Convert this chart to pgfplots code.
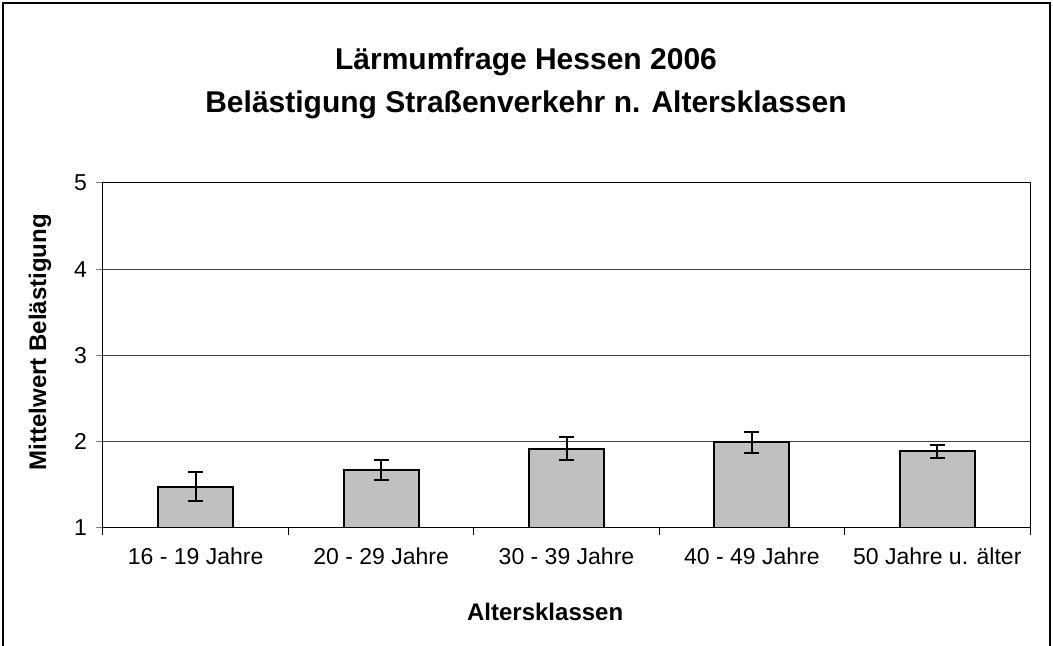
\documentclass[border=0pt]{standalone}
\usepackage{pgfplots}
\pgfplotsset{compat=1.18}
\usepackage{fontspec}
\setmainfont{Liberation Sans}
\definecolor{barfill}{RGB}{192,192,192}
\begin{document}
\begin{tikzpicture}
\path[use as bounding box] (0,0) rectangle (526.5pt,323pt);
\draw[line width=1pt] (1.5pt,0) -- (1.5pt,321.5pt) -- (525pt,321.5pt) -- (525pt,0);
\node[align=center,font=\fontsize{15}{21.5}\selectfont\bfseries] at (263pt,281.5pt) {Lärmumfrage Hessen 2006\\Belästigung Straßenverkehr n. Altersklassen};
\begin{axis}[
  at={(51.5pt,59pt)}, anchor=south west,
  scale only axis, width=463.5pt, height=172.5pt,
  xmin=0.5, xmax=5.5, ymin=1, ymax=5,
  ytick={1,2,3,4,5},
  ymajorgrids, grid style={black!75, line width=0.5pt},
  axis line style={line width=0.5pt},
  xtick={1,2,3,4,5},
  xticklabels={16 - 19 Jahre,20 - 29 Jahre,30 - 39 Jahre,40 - 49 Jahre,50 Jahre u. älter},
  minor xtick={0.5,1.5,2.5,3.5,4.5,5.5},
  xtick style={draw=none},
  minor x tick style={draw=black, line width=0.5pt},
  minor tick length=3.5pt,
  y tick style={line width=0.5pt},
  major tick length=3.5pt,
  tick align=outside,
  xtick pos=bottom, ytick pos=left,
  ticklabel style={font=\fontsize{11.5}{13}\selectfont},
  /pgf/number format/assume math mode=true,
  xticklabel style={yshift=-3pt},
  yticklabel style={xshift=-1pt},
  xlabel={Altersklassen}, ylabel={Mittelwert Belästigung},
  label style={font=\fontsize{12}{14}\selectfont\bfseries},
  xlabel style={at={(axis description cs:0.477,-0.2435)}, anchor=center},
  ylabel style={at={(axis description cs:-0.068,0.539)}, anchor=center, rotate=0},
  ybar, bar width=37.5pt,
]
\addplot[fill=barfill, draw=black, line width=1pt,
  error bars/.cd, y dir=both, y explicit,
  error bar style={line width=1pt, black},
  error mark options={rotate=90, mark size=3.75pt, line width=1pt, black}]
  coordinates {
  (1,1.48) +- (0,0.165)
  (2,1.673) +- (0,0.12)
  (3,1.918) +- (0,0.132)
  (4,1.993) +- (0,0.118)
  (5,1.89) +- (0,0.078)
  };
\end{axis}
\end{tikzpicture}
\end{document}
